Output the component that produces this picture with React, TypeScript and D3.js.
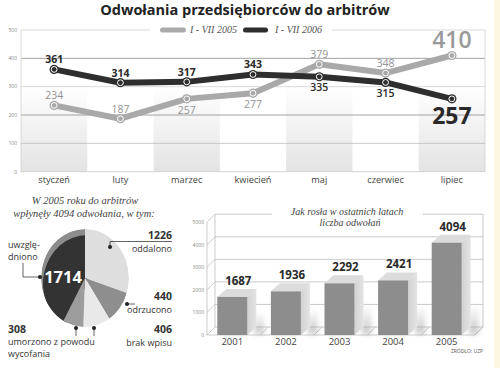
import React from 'react';
import * as d3 from 'd3';

// ---------- data ----------
const months = ['styczeń', 'luty', 'marzec', 'kwiecień', 'maj', 'czerwiec', 'lipiec'];
const values2005 = [234, 187, 257, 277, 379, 348, 410];
const values2006 = [361, 314, 317, 343, 335, 315, 257];
const lineTicks = [0, 100, 200, 300, 400, 500];
const legendLabels = ['I - VII 2005', 'I - VII 2006'];

const pieLabels = ['oddalono', 'odrzucono', 'brak wpisu', 'umorzono z powodu wycofania', 'uwzględniono'];
const pieValues = [1226, 440, 406, 308, 1714];

const years = ['2001', '2002', '2003', '2004', '2005'];
const yearValues = [1687, 1936, 2292, 2421, 4094];
const barTicks = [0, 1000, 2000, 3000, 4000, 5000];

// ---------- layout ----------
const side2005 = ['a', 'a', 'b', 'b', 'a', 'a', 'big'];
const side2006 = ['a', 'a', 'a', 'a', 'b', 'b', 'big'];
const SANS = "'Open Sans', sans-serif";
const SERIF = "'Liberation Serif', 'DejaVu Serif', serif";

export default function App() {
  // top line chart
  const x = d3.scaleBand<string>().domain(months).range([21, 485]);
  const y = d3.scaleLinear().domain([0, 500]).range([171.7, 30]);
  const cx = (m: string) => (x(m) as number) + x.bandwidth() / 2;
  const line = d3.line<number>().x((_, i) => cx(months[i])).y((v) => y(v));
  const gridColor: Record<number, string> = { 0: '#c8c8c8', 100: '#bdbdbd', 200: '#8a8a8a', 300: '#cfcfcf', 400: '#8a8a8a', 500: '#cfcfcf' };

  // pie
  const pie = d3.pie<number>().sort(null).startAngle(0).endAngle(2 * Math.PI)(pieValues);
  const arc = d3.arc<d3.PieArcDatum<number>>().innerRadius(0).outerRadius(1);
  const PCX = 85, PCY = 278, PRX = 44, PRY = 49;
  const pieColors = ['#dedede', '#8e8e8e', '#e9e9e9', '#9d9d9d', '#333333'];

  // bars
  const yB = d3.scaleLinear().domain([0, 5000]).range([335, 222.25]);
  const xB = d3.scaleBand<string>().domain(years).range([205.5, 473.5]).paddingInner(0.44).paddingOuter(0.22);
  const bw = xB.bandwidth();
  const DX = 9, DY = -8, WX = 8, WY = -8;

  return (
    <svg width={500} height={368} style={{ position: 'absolute', left: 0, top: 0, background: '#fff' }}>
      <defs>
        <linearGradient id="band" x1="0" y1="0" x2="0" y2="1">
          <stop offset="0" stopColor="#ffffff" />
          <stop offset="1" stopColor="#e3e3e3" />
        </linearGradient>
        <linearGradient id="sideG" x1="0" y1="0" x2="1" y2="0">
          <stop offset="0" stopColor="#d2d2d2" />
          <stop offset="1" stopColor="#e4e4e4" />
        </linearGradient>
        <linearGradient id="shadowG" x1="0" y1="0" x2="0" y2="1">
          <stop offset="0" stopColor="#999" stopOpacity="0" />
          <stop offset="1" stopColor="#999" stopOpacity="0.55" />
        </linearGradient>
        <clipPath id="pieClip">
          <ellipse cx={PCX} cy={PCY} rx={PRX} ry={PRY} />
        </clipPath>
        <filter id="blur" x="-50%" y="-50%" width="200%" height="200%">
          <feGaussianBlur stdDeviation="2.5" />
        </filter>
      </defs>
      <rect x={0} y={0} width={500} height={368} fill="#fff" />
      <rect x={494} y={0} width={6} height={368} fill="#fcf5df" />

      {/* title */}
      <text x={245} y={15} textAnchor="middle" fontFamily={SANS} fontWeight={700} fontSize={14.5} fill="#222">
        Odwołania przedsiębiorców do arbitrów
      </text>

      {/* ===== line chart ===== */}
      {months.map((m, i) =>
        i % 2 === 0 ? (
          <rect key={m} x={x(m)} y={y(300)} width={x.bandwidth()} height={y(0) - y(300)} fill="url(#band)" />
        ) : null
      )}
      {lineTicks.map((t) =>
        t === 500 ? (
          <g key={t}>
            <line x1={21} x2={150} y1={y(t)} y2={y(t)} stroke={gridColor[t]} strokeWidth={0.8} />
            <line x1={332} x2={485} y1={y(t)} y2={y(t)} stroke={gridColor[t]} strokeWidth={0.8} />
          </g>
        ) : (
          <line key={t} x1={21} x2={485} y1={y(t)} y2={y(t)} stroke={gridColor[t]} strokeWidth={0.8} />
        )
      )}
      <line x1={21} x2={21} y1={y(500)} y2={y(0)} stroke="#cfcfcf" strokeWidth={0.8} />
      <line x1={485} x2={485} y1={y(500)} y2={y(0)} stroke="#cfcfcf" strokeWidth={0.8} />
      {lineTicks.map((t) => (
        <text key={t} x={17} y={y(t) + 1.8} textAnchor="end" fontFamily={SANS} fontSize={5} fill="#888">
          {t}
        </text>
      ))}
      {months.map((m) => (
        <text key={m} x={cx(m)} y={183} textAnchor="middle" fontFamily={SANS} fontSize={9.2} fill="#444">
          {m}
        </text>
      ))}

      {/* legend */}
      <rect x={160} y={27.5} width={26} height={5} rx={2.5} fill="#aaaaaa" />
      <text x={190} y={33} fontFamily={SERIF} fontStyle="italic" fontSize={10} fill="#555">{legendLabels[0]}</text>
      <rect x={243} y={27.5} width={25} height={5} rx={2.5} fill="#2e2e2e" />
      <text x={275} y={33} fontFamily={SERIF} fontStyle="italic" fontSize={10} fill="#555">{legendLabels[1]}</text>

      {/* lines */}
      <path d={line(values2005) as string} fill="none" stroke="#a9a9a9" strokeWidth={6} strokeLinejoin="round" />
      <path d={line(values2006) as string} fill="none" stroke="#2e2e2e" strokeWidth={6} strokeLinejoin="round" />
      {[{ vals: values2005, c: '#a9a9a9' }, { vals: values2006, c: '#2e2e2e' }].map((s, si) =>
        s.vals.map((v, i) => (
          <g key={`${si}-${i}`}>
            <circle cx={cx(months[i])} cy={y(v)} r={4.6} fill={s.c} />
            <circle cx={cx(months[i])} cy={y(v)} r={2.9} fill={s.c} stroke="#fff" strokeWidth={1} />
          </g>
        ))
      )}
      {values2005.map((v, i) => {
        const s = side2005[i];
        if (s === 'big')
          return (
            <text key={i} x={cx(months[i])} y={y(v) - 7.5} textAnchor="middle" fontFamily={SANS} fontWeight={600} fontSize={23} fill="#999">
              {v}
            </text>
          );
        return (
          <text key={i} x={cx(months[i])} y={s === 'a' ? y(v) - 6 : y(v) + 15} textAnchor="middle" fontFamily={SANS} fontSize={10.5} fill="#939393">
            {v}
          </text>
        );
      })}
      {values2006.map((v, i) => {
        const s = side2006[i];
        if (s === 'big')
          return (
            <text key={i} x={cx(months[i])} y={y(v) + 25} textAnchor="middle" fontFamily={SANS} fontWeight={700} fontSize={23} fill="#2a2a2a">
              {v}
            </text>
          );
        return (
          <text key={i} x={cx(months[i])} y={s === 'a' ? y(v) - 6 : y(v) + 14.5} textAnchor="middle" fontFamily={SANS} fontWeight={s === 'a' ? 700 : 600} fontSize={10.5} fill="#2a2a2a">
            {v}
          </text>
        );
      })}

      {/* ===== pie ===== */}
      <text x={85} y={204} textAnchor="middle" fontFamily={SERIF} fontStyle="italic" fontSize={10.5} fill="#444">W 2005 roku do arbitrów</text>
      <text x={84} y={217} textAnchor="middle" fontFamily={SERIF} fontStyle="italic" fontSize={10.5} fill="#444">wpłynęły 4094 odwołania, w tym:</text>
      <g clipPath="url(#pieClip)">
        <path d={arc(pie[4]) as string} transform={`translate(${PCX},${PCY}) scale(${PRX},${PRY})`} fill="#8c8c8c" />
        <path d={arc(pie[4]) as string} transform={`translate(${PCX + 2},${PCY + 6}) scale(${PRX},${PRY})`} fill={pieColors[4]} />
        {pie.slice(0, 4).map((p, i) => (
          <path key={i} d={arc(p) as string} transform={`translate(${PCX},${PCY}) scale(${PRX},${PRY})`} fill={pieColors[i]} />
        ))}
      </g>
      <text x={63} y={283} textAnchor="middle" fontFamily={SANS} fontWeight={700} fontSize={16.5} fill="#fff">{pieValues[4]}</text>

      {/* pie annotations */}
      <g stroke="#222" strokeWidth={0.7} fill="none">
        <path d="M110,247 V241.5 H172" />
        <path d="M127,304 H135" />
        <path d="M94,328 V336" />
        <path d="M76,328 V336" />
        <path d="M23,263 V277 H40" />
      </g>
      <g fill="#222">
        <circle cx={110} cy={247} r={2} />
        <circle cx={127} cy={304} r={2} />
        <circle cx={94} cy={328} r={2} />
        <circle cx={76} cy={328} r={2} />
        <circle cx={40} cy={277} r={2} />
      </g>
      <g fontFamily={SANS} fill="#333">
        <text x={172} y={239} textAnchor="end" fontWeight={700} fontSize={10.5}>{pieValues[0]}</text>
        <text x={172} y={251.5} textAnchor="end" fontSize={9}>{pieLabels[0]}</text>
        <text x={172} y={300} textAnchor="end" fontWeight={700} fontSize={10.5}>{pieValues[1]}</text>
        <text x={172} y={312.5} textAnchor="end" fontSize={9}>{pieLabels[1]}</text>
        <text x={172} y={333} textAnchor="end" fontWeight={700} fontSize={10.5}>{pieValues[2]}</text>
        <text x={172} y={345.5} textAnchor="end" fontSize={9}>{pieLabels[2]}</text>
        <text x={8} y={333} fontWeight={700} fontSize={10.5}>{pieValues[3]}</text>
        <text x={8} y={345} fontSize={9}>umorzono z powodu</text>
        <text x={8} y={357} fontSize={9}>wycofania</text>
        <text x={8} y={247.5} fontSize={9}>uwzglę-</text>
        <text x={8} y={259.5} fontSize={9}>dniono</text>
      </g>

      {/* ===== bar chart ===== */}
      <text x={347} y={214.5} textAnchor="middle" fontFamily={SERIF} fontStyle="italic" fontSize={10} fill="#444">Jak rosła w ostatnich latach</text>
      <text x={350} y={225.5} textAnchor="middle" fontFamily={SERIF} fontStyle="italic" fontSize={10} fill="#444">liczba odwołań</text>
      <g stroke="#b5b5b5" strokeWidth={0.7}>
        {barTicks.map((t) =>
          t === 5000 ? (
            <g key={t}>
              <line x1={207 + WX} x2={272} y1={yB(t) + WY} y2={yB(t) + WY} />
              <line x1={423} x2={475 + WX} y1={yB(t) + WY} y2={yB(t) + WY} />
              <line x1={207} x2={207 + WX} y1={yB(t)} y2={yB(t) + WY} />
            </g>
          ) : (
            <g key={t}>
              <line x1={207 + WX} x2={475 + WX} y1={yB(t) + WY} y2={yB(t) + WY} />
              <line x1={207} x2={207 + WX} y1={yB(t)} y2={yB(t) + WY} />
            </g>
          )
        )}
        <line x1={207 + WX} x2={207 + WX} y1={yB(0) + WY} y2={yB(5000) + WY} />
        <line x1={475 + WX} x2={475 + WX} y1={yB(0) + WY} y2={yB(5000) + WY} />
        <line x1={207} x2={207} y1={yB(0)} y2={yB(5000)} />
        <line x1={207} x2={475} y1={yB(0)} y2={yB(0)} />
        <line x1={475} x2={475 + WX} y1={yB(0)} y2={yB(0) + WY} />
        {years.map((yr) => (
          <line key={yr} x1={(xB(yr) as number) + bw + DX + 4} x2={(xB(yr) as number) + bw + DX + 4 + WX} y1={yB(0)} y2={yB(0) + WY} />
        ))}
      </g>
      {barTicks.map((t) => (
        <text key={t} x={204} y={yB(t) + 1.8} textAnchor="end" fontFamily={SANS} fontSize={5} fill="#888">{t}</text>
      ))}
      {years.map((yr, i) => {
        const bx = xB(yr) as number;
        const yt = yB(yearValues[i]);
        const y0 = yB(0);
        const sh = Math.min(30, (y0 - yt) * 0.6);
        return (
          <g key={yr}>
            <rect x={bx + bw + DX - 2} y={y0 - sh} width={10} height={sh - 1} fill="url(#shadowG)" filter="url(#blur)" />
            <polygon points={`${bx + bw},${yt} ${bx + bw + DX},${yt + DY} ${bx + bw + DX},${y0 + DY} ${bx + bw},${y0}`} fill="url(#sideG)" />
            <polygon points={`${bx},${yt} ${bx + DX},${yt + DY} ${bx + bw + DX},${yt + DY} ${bx + bw},${yt}`} fill="#dcdcdc" />
            <rect x={bx} y={yt} width={bw} height={y0 - yt} fill="#8d8d8d" />
            <text x={bx + bw / 2 + 6} y={yt - 12} textAnchor="middle" fontFamily={SANS} fontWeight={700} fontSize={11.5} fill="#2a2a2a">{yearValues[i]}</text>
            <text x={bx + bw / 2} y={345} textAnchor="middle" fontFamily={SANS} fontSize={9.5} fill="#444">{yr}</text>
          </g>
        );
      })}
      <text x={483} y={353} textAnchor="end" fontFamily={SANS} fontSize={5} fill="#555">ŹRÓDŁO: UZP</text>
    </svg>
  );
}
